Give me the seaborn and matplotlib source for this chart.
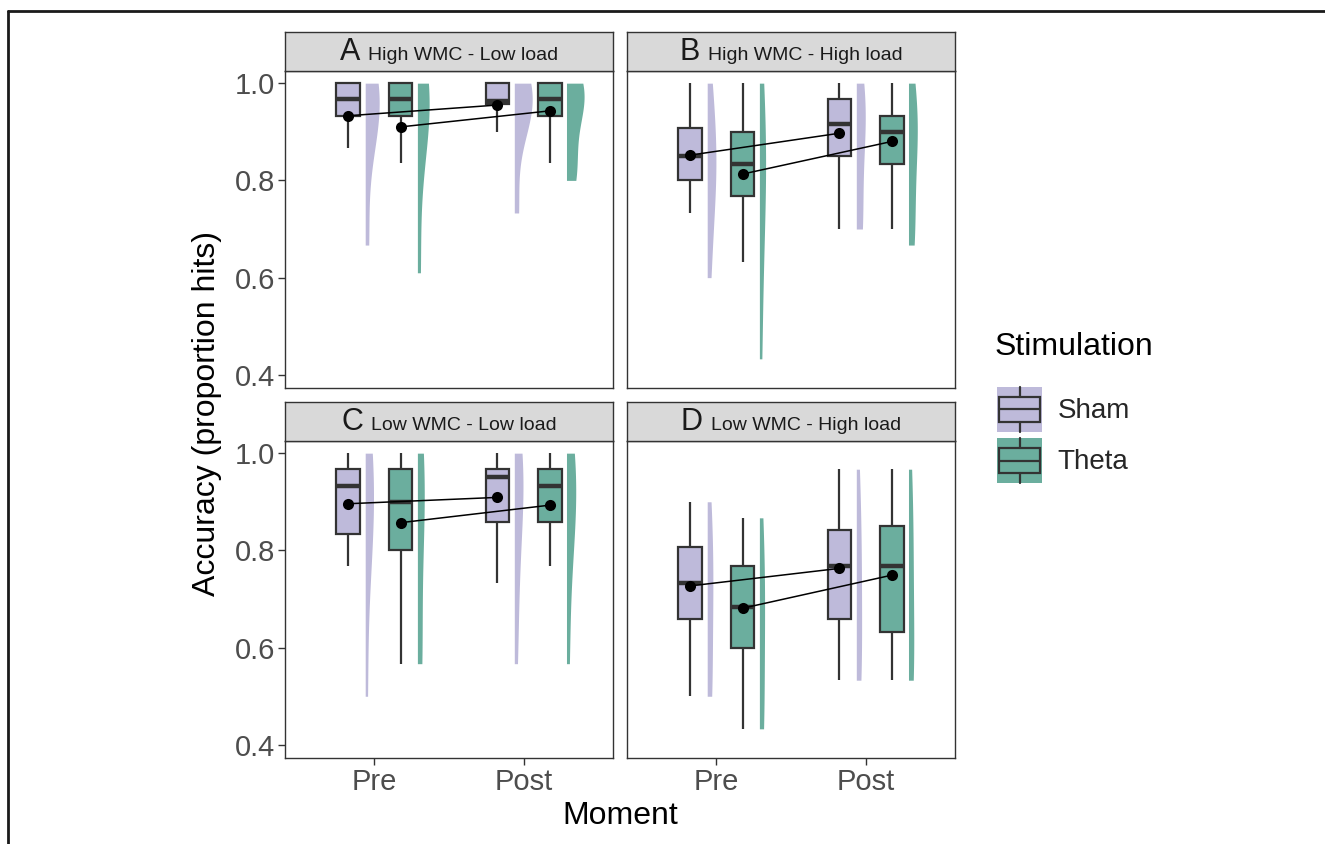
import numpy as np
import pandas as pd
import matplotlib
matplotlib.use("Agg")
import matplotlib.pyplot as plt
from matplotlib.patches import Rectangle, Patch
from matplotlib.lines import Line2D
from matplotlib.legend_handler import HandlerBase
from matplotlib.offsetbox import TextArea, HPacker, AnchoredOffsetbox
import seaborn as sns

# ---------------- data ----------------
panel_letters = ["A", "B", "C", "D"]
panel_titles = ["High WMC - Low load", "High WMC - High load",
                "Low WMC - Low load", "Low WMC - High load"]
moments = ["Pre", "Post"]
stimulations = ["Sham", "Theta"]

# group order inside each panel: Pre-Sham, Pre-Theta, Post-Sham, Post-Theta
whisker_low = [0.867, 0.835, 0.900, 0.835,
               0.733, 0.633, 0.700, 0.700,
               0.767, 0.567, 0.733, 0.767,
               0.500, 0.433, 0.533, 0.533]
q1 = [0.933, 0.933, 0.957, 0.933,
      0.800, 0.767, 0.850, 0.833,
      0.833, 0.800, 0.858, 0.858,
      0.658, 0.600, 0.658, 0.633]
median = [0.967, 0.967, 0.963, 0.967,
          0.850, 0.833, 0.917, 0.900,
          0.933, 0.900, 0.950, 0.933,
          0.733, 0.683, 0.767, 0.767]
q3 = [1.000, 1.000, 1.000, 1.000,
      0.908, 0.900, 0.967, 0.933,
      0.967, 0.967, 0.967, 0.967,
      0.808, 0.767, 0.842, 0.850]
whisker_high = [1.000, 1.000, 1.000, 1.000,
                1.000, 1.000, 1.000, 1.000,
                1.000, 1.000, 1.000, 1.000,
                0.900, 0.867, 0.967, 0.967]
mean_acc = [0.933, 0.910, 0.955, 0.943,
            0.852, 0.813, 0.897, 0.880,
            0.896, 0.857, 0.909, 0.893,
            0.727, 0.681, 0.763, 0.749]
dist_min = [0.667, 0.610, 0.733, 0.800,
            0.600, 0.433, 0.700, 0.667,
            0.500, 0.567, 0.567, 0.567,
            0.500, 0.433, 0.533, 0.533]

# ---------------- styles ----------------
palette = {"Sham": "#BEBADA", "Theta": "#6BAE9E"}
dodge_off = {"Sham": -0.175, "Theta": 0.175}
box_width = 0.16
violin_shift = 0.113
violin_extent = [0.12, 0.06, 0.062, 0.038]   # max half-violin width per panel
edge = "#333333"

# ---------------- tidy tables ----------------
rows_box, rows_vio, rows_mean = [], [], []
g = 0
for i, letter in enumerate(panel_letters):
    for m, moment in enumerate(moments):
        for stim in stimulations:
            x = m + dodge_off[stim]
            for v in (whisker_low[g], q1[g], median[g], q3[g], whisker_high[g]):
                rows_box.append(dict(panel=letter, Moment=moment, Stimulation=stim, x=x, value=v))
            # seaborn draws a right half-violin from pos - w/2 to pos + w/2
            vx = x + violin_shift + violin_extent[i] / 2
            for v in (dist_min[g], whisker_low[g], q1[g], median[g], q3[g], whisker_high[g]):
                rows_vio.append(dict(panel=letter, Moment=moment, Stimulation=stim, x=vx, value=v))
            rows_mean.append(dict(panel=letter, Moment=moment, Stimulation=stim, x=x, value=mean_acc[g]))
            g += 1
df_box = pd.DataFrame(rows_box)
df_vio = pd.DataFrame(rows_vio)
df_mean = pd.DataFrame(rows_mean)

# ---------------- figure ----------------
sns.set_theme(style="white")
plt.rcParams["font.family"] = ["Liberation Sans", "DejaVu Sans"]

W, H = 1325, 844
fig = plt.figure(figsize=(W / 100, H / 100), dpi=100)

col_x = [285, 627]
panel_w = 328
row_top = [71, 441]
row_bot = [388, 758]
strip_top = [32, 402]

vio_hue_order = ["_pad0", "Sham", "_pad1", "Theta"]
vio_palette = {"_pad0": "white", "Sham": palette["Sham"], "_pad1": "white", "Theta": palette["Theta"]}

for i, letter in enumerate(panel_letters):
    r, c = divmod(i, 2)
    ax = fig.add_axes([col_x[c] / W, 1 - row_bot[r] / H, panel_w / W, (row_bot[r] - row_top[r]) / H])
    bsub = df_box[df_box.panel == letter]
    vsub = df_vio[df_vio.panel == letter]
    msub = df_mean[df_mean.panel == letter]

    vnative = np.diff(np.unique(vsub.x)).min()
    sns.violinplot(data=vsub, x="x", y="value", hue="Stimulation", hue_order=vio_hue_order,
                   palette=vio_palette, split=True, inner=None, cut=0, density_norm="area",
                   common_norm=True, native_scale=True, dodge=False,
                   width=violin_extent[i] / vnative,
                   linewidth=0, saturation=1, legend=False, ax=ax)

    bnative = np.diff(np.unique(bsub.x)).min()
    sns.boxplot(data=bsub, x="x", y="value", hue="Stimulation", hue_order=stimulations,
                palette=palette, native_scale=True, dodge=False, width=box_width / bnative,
                linewidth=1.6, linecolor=edge, showfliers=False, showcaps=False, saturation=1,
                medianprops=dict(linewidth=3.2, color=edge), legend=False, ax=ax)

    sns.lineplot(data=msub, x="x", y="value", units="Stimulation", estimator=None,
                 color="black", linewidth=1.1, marker="o", markersize=8, markeredgewidth=0,
                 legend=False, ax=ax, zorder=5)

    ax.set_xlim(-0.6, 1.6)
    ax.set_ylim(0.373, 1.025)
    ax.set_xticks([0, 1])
    ax.set_yticks([0.4, 0.6, 0.8, 1.0])
    ax.set_xlabel("")
    ax.set_ylabel("")
    ax.grid(False)
    for sp in ax.spines.values():
        sp.set_color(edge)
        sp.set_linewidth(1.0)
    ax.tick_params(axis="both", length=5, width=1, color=edge, labelsize=21,
                   labelcolor="#4D4D4D", pad=2, left=True, bottom=True)
    if c == 0:
        ax.set_yticklabels(["0.4", "0.6", "0.8", "1.0"])
    else:
        ax.set_yticklabels([])
        ax.tick_params(axis="y", length=0)
    if r == 1:
        ax.set_xticklabels(moments)
    else:
        ax.set_xticklabels([])
        ax.tick_params(axis="x", length=0)

    # strip
    sax = fig.add_axes([col_x[c] / W, 1 - row_top[r] / H, panel_w / W, (row_top[r] - strip_top[r]) / H])
    sax.set_facecolor("#D9D9D9")
    sax.set_xticks([])
    sax.set_yticks([])
    for sp in sax.spines.values():
        sp.set_color(edge)
        sp.set_linewidth(1.0)
    t1 = TextArea(letter, textprops=dict(fontsize=22, color="#1A1A1A"))
    t2 = TextArea(panel_titles[i], textprops=dict(fontsize=14, color="#1A1A1A"))
    pack = HPacker(children=[t1, t2], align="baseline", pad=0, sep=6)
    anch = AnchoredOffsetbox(loc="center", child=pack, frameon=False, pad=0, borderpad=0)
    sax.add_artist(anch)

# axis titles
fig.text(620 / W, 1 - 816 / H, "Moment", fontsize=23, ha="center", va="center", color="black")
fig.text(207 / W, 1 - 414 / H, "Accuracy (proportion hits)", fontsize=23, rotation=90,
         ha="center", va="center", color="black")


# legend with boxplot keys
class BoxKeyHandler(HandlerBase):
    def create_artists(self, legend, orig_handle, xdescent, ydescent, width, height, fontsize, trans):
        x0, y0 = -xdescent, -ydescent
        fc = orig_handle.get_facecolor()
        bg = Rectangle((x0, y0), width, height, facecolor=fc, edgecolor="none", transform=trans)
        bx = Rectangle((x0 + 0.05 * width, y0 + 0.22 * height), 0.90 * width, 0.56 * height,
                       facecolor="none", edgecolor=edge, linewidth=1.6, transform=trans)
        cx = x0 + width / 2
        wt = Line2D([cx, cx], [y0 + 0.78 * height, y0 + height], color=edge, linewidth=1.6, transform=trans)
        wb = Line2D([cx, cx], [y0, y0 + 0.22 * height], color=edge, linewidth=1.6, transform=trans)
        md = Line2D([x0 + 0.05 * width, x0 + 0.95 * width], [y0 + 0.5 * height] * 2,
                    color=edge, linewidth=1.6, transform=trans)
        return [bg, bx, wt, wb, md]


fig.text(995 / W, 1 - 347 / H, "Stimulation", fontsize=23, ha="left", va="center", color="black")
handles = [Patch(facecolor=palette[s]) for s in stimulations]
leg = fig.legend(handles, stimulations, handler_map={Patch: BoxKeyHandler()},
                 loc="upper left", bbox_to_anchor=(997 / W, 1 - 387 / H), frameon=False,
                 fontsize=20, handlelength=1.62, handleheight=2.115, labelspacing=0.22,
                 handletextpad=0.55, borderpad=0, borderaxespad=0)

# outer frame (top and left edge)
fig.add_artist(Line2D([8 / W, 1], [1 - 11 / H, 1 - 11 / H], transform=fig.transFigure,
                      color="#1A1A1A", linewidth=2))
fig.add_artist(Line2D([8 / W, 8 / W], [0, 1 - 11 / H], transform=fig.transFigure,
                      color="#1A1A1A", linewidth=2))

fig.savefig("out.png", dpi=100)
